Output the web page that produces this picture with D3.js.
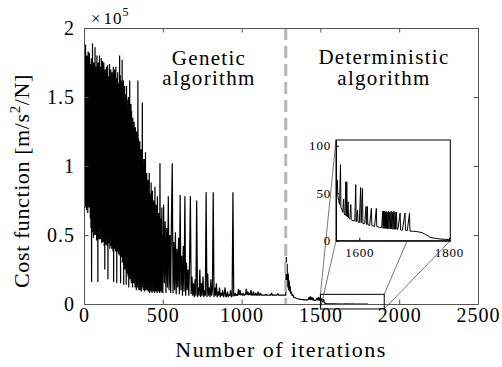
<!DOCTYPE html>
<html>
  <head>
    <title>Cost function</title>
    <style>
      body { margin: 0; background: #fff; }
      svg { display: block; background-color: #fff; }
      text { font-family: "Liberation Serif", serif; fill: #000; }
    </style>
  </head>
  <body>
    <svg id="canvas" width="502" height="367"></svg>
    <script src="https://d3js.org/d3.v7.min.js"></script>
    <script>
      // Genetic algorithm cost (x1e5), iterations 0..498, one value every 2 iterations.
      var earlyStart = 0, earlyStep = 2;
      var genEarly = [
        1.20, 1.85, 0.80, 1.72, 0.70, 1.88, 0.95, 1.60, 0.68, 1.80,
        0.90, 1.70, 0.66, 1.83, 0.75, 1.55, 0.70, 1.82, 0.85, 1.74,
        0.62, 1.60, 0.55, 1.78, 0.16, 1.65, 0.52, 1.89, 0.58, 1.70,
        0.48, 1.75, 0.60, 1.68, 0.50, 1.86, 0.55, 1.72, 0.50, 1.64,
        0.46, 1.80, 0.58, 1.66, 0.16, 1.75, 0.50, 1.62, 0.47, 1.80,
        0.55, 1.72, 0.47, 1.68, 0.60, 1.78, 0.44, 1.58, 0.52, 1.76,
        0.45, 1.68, 0.48, 1.75, 0.42, 1.62, 0.25, 1.70, 0.45, 1.66,
        0.43, 1.72, 0.50, 1.60, 0.42, 1.73, 0.18, 1.65, 0.44, 1.58,
        0.46, 1.74, 0.40, 1.64, 0.48, 1.70, 0.42, 1.55, 0.40, 1.68,
        0.42, 1.60, 0.38, 1.72, 0.16, 1.66, 0.44, 1.70, 0.40, 1.58,
        0.38, 1.72, 0.40, 1.55, 0.15, 1.64, 0.38, 1.68, 0.42, 1.52,
        0.36, 1.60, 0.38, 1.80, 0.35, 1.66, 0.15, 1.62, 0.36, 1.58,
        0.34, 1.77, 0.30, 1.55, 0.35, 1.62, 0.14, 1.50, 0.30, 1.58,
        0.25, 1.52, 0.30, 1.45, 0.14, 1.58, 0.22, 1.48, 0.28, 1.40,
        0.20, 1.50, 0.12, 1.42, 0.25, 1.62, 0.18, 1.38, 0.22, 1.45,
        0.15, 1.40, 0.20, 1.30, 0.12, 1.35, 0.22, 1.25, 0.15, 1.32,
        0.18, 1.20, 0.12, 1.28, 0.20, 1.15, 0.10, 1.25, 0.16, 1.10,
        0.12, 1.62, 0.18, 1.20, 0.10, 1.05, 0.15, 1.18, 0.10, 1.00,
        0.14, 1.12, 0.09, 0.98, 0.16, 1.46, 0.12, 1.05, 0.10, 0.92,
        0.15, 1.05, 0.09, 0.88, 0.14, 1.10, 0.10, 0.85, 0.12, 0.95,
        0.10, 0.85, 0.16, 0.90, 0.09, 0.78, 0.12, 0.95, 0.08, 0.80,
        0.14, 0.72, 0.09, 0.88, 0.11, 0.70, 0.08, 0.82, 0.13, 0.68,
        0.09, 0.75, 0.12, 0.65, 0.08, 0.85, 0.10, 0.62, 0.09, 0.72,
        0.12, 0.58, 0.08, 0.78, 0.10, 0.60, 0.09, 0.66, 0.11, 0.55,
        0.08, 1.02, 0.10, 0.62, 0.09, 0.52, 0.12, 0.70, 0.08, 0.50
      ];

      // Genetic algorithm cost (x1e5), iterations 500..1280, one value every 5 iterations.
      var lateStart = 500, lateStep = 5;
      var genLate = [
        0.08, 0.72, 0.15, 0.60, 0.08, 0.55, 0.12, 0.78, 0.10, 0.50,
        0.08, 0.62, 1.02, 0.08, 0.45, 0.10, 0.52, 0.07, 0.40, 0.12,
        0.48, 0.07, 0.79, 0.10, 0.35, 0.06, 0.42, 0.09, 0.78, 0.06,
        0.30, 0.10, 0.25, 0.06, 0.32, 0.78, 0.07, 0.20, 0.06, 0.15,
        0.05, 0.18, 0.06, 0.75, 0.05, 0.12, 0.06, 0.25, 0.05, 0.15,
        0.06, 0.20, 0.05, 0.10, 0.06, 0.81, 0.05, 0.22, 0.06, 0.12,
        0.05, 0.18, 0.06, 0.10, 0.81, 0.05, 0.12, 0.06, 0.15, 0.05,
        0.09, 0.06, 0.12, 0.05, 0.08, 0.06, 0.10, 0.05, 0.07, 0.12,
        0.05, 0.06, 0.09, 0.05, 0.07, 0.06, 0.10, 0.05, 0.06, 0.81,
        0.06, 0.06, 0.08, 0.06, 0.07, 0.06, 0.11, 0.065, 0.10, 0.065,
        0.07, 0.065, 0.08, 0.065, 0.065, 0.07, 0.11, 0.065, 0.09, 0.065,
        0.08, 0.065, 0.10, 0.065, 0.065, 0.09, 0.065, 0.065, 0.08, 0.065,
        0.065, 0.09, 0.065, 0.065, 0.08, 0.065, 0.065, 0.065, 0.065, 0.065,
        0.065, 0.07, 0.065, 0.065, 0.065, 0.065, 0.065, 0.065, 0.08, 0.065,
        0.065, 0.065, 0.065, 0.065, 0.065, 0.065, 0.075, 0.065, 0.065, 0.065,
        0.065, 0.065, 0.065, 0.065, 0.065, 0.065, 0.065
      ];

      // Deterministic algorithm start, [iteration, cost x1e5]
      var detCost = [
        [1284, 0.34], [1287, 0.14], [1290, 0.29], [1293, 0.12],
        [1296, 0.22], [1299, 0.10], [1302, 0.17], [1305, 0.09], [1308, 0.13],
        [1311, 0.075], [1315, 0.09], [1320, 0.06], [1325, 0.07], [1330, 0.05],
        [1340, 0.045], [1350, 0.04], [1360, 0.037], [1375, 0.034], [1390, 0.032],
        [1405, 0.03], [1420, 0.03], [1430, 0.05], [1433, 0.03], [1437, 0.055],
        [1440, 0.03], [1445, 0.05], [1448, 0.028], [1455, 0.045], [1458, 0.028],
        [1470, 0.027], [1480, 0.045], [1483, 0.026], [1490, 0.05], [1493, 0.025],
        [1500, 0.045], [1503, 0.02], [1510, 0.04], [1513, 0.015], [1520, 0.035],
        [1525, 0.008], [1535, 0.003], [1545, 0.001]
      ];

      // Deterministic tail shown in the inset, [iteration, cost]
      var tailCost = [
        [1548, 66], [1549, 52], [1551, 64], [1552, 48], [1554, 42], [1556, 38],
        [1558, 80], [1559, 35], [1561, 33], [1563, 30], [1565, 44], [1566, 29],
        [1568, 27], [1570, 62], [1571, 26], [1572, 62], [1573, 25], [1575, 41],
        [1576, 24], [1579, 23], [1581, 38], [1582, 22], [1586, 21], [1590, 21],
        [1592, 59], [1593, 20], [1596, 32], [1597, 20], [1600, 19], [1603, 56],
        [1604, 19], [1607, 55], [1608, 18], [1612, 18], [1615, 36], [1616, 17],
        [1618, 36], [1619, 17], [1623, 16], [1627, 34], [1628, 16], [1634, 15],
        [1638, 34], [1639, 15], [1645, 14], [1650, 14],
        [1652, 31], [1653, 13], [1654, 31], [1655, 13], [1656, 31], [1657, 13],
        [1658, 30], [1659, 13], [1660, 31], [1661, 13], [1662, 30], [1663, 12.5],
        [1665, 31], [1666, 12.5], [1668, 30], [1669, 12.5], [1671, 31], [1672, 12.5],
        [1674, 30], [1675, 12], [1677, 31], [1678, 12], [1680, 30], [1681, 12],
        [1683, 30], [1684, 12], [1686, 12], [1691, 29], [1692, 11.5], [1696, 11],
        [1702, 29], [1703, 11], [1707, 10.5], [1712, 29], [1713, 10], [1720, 10],
        [1730, 9.5], [1740, 8.5], [1748, 6.5], [1755, 4.5], [1760, 3.2], [1770, 2.5],
        [1780, 1.8], [1790, 1.5], [1800, 1.2], [1803, 1.2]
      ];

      var xTicks = [0, 500, 1000, 1500, 2000, 2500];
      var yTicks = [0, 0.5, 1, 1.5, 2];
      var insetXTicks = [1600, 1800];
      var insetYTicks = [0, 50, 100];
      var switchIter = 1280;       // GA -> deterministic
      var zoomBox = { x0: 1500, x1: 1905, y0: -0.036, y1: 0.07 }; // x1e5

      var svg = d3.select("#canvas");
      var axisColor = "#555";

      // scales
      var x = d3.scaleLinear().domain([0, 2500]).range([84, 478]);
      var y = d3.scaleLinear().domain([0, 2]).range([304, 28]);
      var xi = d3.scaleLinear().domain([1548, 1803]).range([336, 450.3]);
      var yi = d3.scaleLinear().domain([0, 106]).range([240.7, 140]);

      // build the full series
      var series = genEarly.map((v, i) => [earlyStart + i * earlyStep, v])
        .concat(genLate.map((v, i) => [lateStart + i * lateStep, v]))
        .concat(detCost)
        .concat(tailCost.map(d => [d[0], d[1] / 1e5]));

      var defs = svg.append("defs");
      defs.append("clipPath").attr("id", "clipMain")
        .append("rect")
        .attr("x", x(0)).attr("y", y(2))
        .attr("width", x(2500) - x(0)).attr("height", y(0) - y(2));
      defs.append("clipPath").attr("id", "clipInset")
        .append("rect")
        .attr("x", xi(1548)).attr("y", yi(106))
        .attr("width", xi(1803) - xi(1548)).attr("height", yi(0) - yi(106));

      // main line
      var line = d3.line().x(d => x(d[0])).y(d => y(d[1]));
      svg.append("path")
        .datum(series)
        .attr("clip-path", "url(#clipMain)")
        .attr("d", line)
        .attr("fill", "none")
        .attr("stroke", "#000")
        .attr("stroke-width", 1.2)
        .attr("stroke-linejoin", "miter")
        .attr("stroke-miterlimit", 2);

      // dashed separator
      svg.append("line")
        .attr("x1", x(switchIter)).attr("x2", x(switchIter))
        .attr("y1", y(2)).attr("y2", y(0))
        .attr("stroke", "#b4b4b4")
        .attr("stroke-width", 3)
        .attr("stroke-dasharray", "12,6");

      // axes (MATLAB box, ticks inside)
      function styleAxis(g) {
        g.attr("color", axisColor);
        g.selectAll("text").attr("fill", "#000")
          .style("font-family", "Liberation Serif").style("font-size", "20px")
          .style("letter-spacing", "1px");
      }
      svg.append("g").attr("transform", "translate(0," + y(0) + ")")
        .call(d3.axisBottom(x).tickValues(xTicks).tickSizeInner(-4.5).tickSizeOuter(0).tickPadding(4).tickFormat(d3.format("d")))
        .call(styleAxis);
      svg.append("g").attr("transform", "translate(0," + y(2) + ")")
        .call(d3.axisTop(x).tickValues(xTicks).tickSizeInner(-4.5).tickSizeOuter(0).tickFormat(""))
        .call(styleAxis);
      svg.append("g").attr("transform", "translate(" + x(0) + ",0)")
        .call(d3.axisLeft(y).tickValues(yTicks).tickSizeInner(-4.5).tickSizeOuter(0).tickPadding(9).tickFormat(d3.format("")))
        .call(styleAxis);
      svg.append("g").attr("transform", "translate(" + x(2500) + ",0)")
        .call(d3.axisRight(y).tickValues(yTicks).tickSizeInner(-4.5).tickSizeOuter(0).tickFormat(""))
        .call(styleAxis);

      // zoom rectangle and connectors
      var bx0 = x(zoomBox.x0), bx1 = x(zoomBox.x1), by0 = y(zoomBox.y1), by1 = y(zoomBox.y0);
      var connectors = [
        [bx0, by0, xi(1548), yi(106)],
        [bx0, by1, xi(1548), yi(0)],
        [bx1, by0, xi(1803), yi(106)],
        [bx1, by1, xi(1803), yi(0)]
      ];
      svg.selectAll(".conn").data(connectors).enter().append("line")
        .attr("x1", d => d[0]).attr("y1", d => d[1])
        .attr("x2", d => d[2]).attr("y2", d => d[3])
        .attr("stroke", "#555").attr("stroke-width", 0.8);
      svg.append("rect")
        .attr("x", bx0).attr("y", by0)
        .attr("width", bx1 - bx0).attr("height", by1 - by0)
        .attr("fill", "none").attr("stroke", "#000").attr("stroke-width", 1);

      // inset
      svg.append("rect")
        .attr("x", xi(1548)).attr("y", yi(106))
        .attr("width", xi(1803) - xi(1548)).attr("height", yi(0) - yi(106))
        .attr("fill", "#fff");
      var lineInset = d3.line().x(d => xi(d[0])).y(d => yi(d[1]));
      svg.append("path")
        .datum(tailCost)
        .attr("clip-path", "url(#clipInset)")
        .attr("d", lineInset)
        .attr("fill", "none")
        .attr("stroke", "#000")
        .attr("stroke-width", 1);

      function styleInset(g) {
        g.attr("color", "#000");
        g.selectAll("text").attr("fill", "#000")
          .style("font-family", "Liberation Serif").style("font-size", "13px")
          .style("letter-spacing", "0.8px");
      }
      svg.append("g").attr("transform", "translate(0," + yi(0) + ")")
        .call(d3.axisBottom(xi).tickValues(insetXTicks).tickSizeInner(-3).tickSizeOuter(0).tickPadding(7).tickFormat(d3.format("d")))
        .call(styleInset);
      svg.append("g").attr("transform", "translate(" + xi(1548) + ",0)")
        .call(d3.axisLeft(yi).tickValues(insetYTicks).tickSizeInner(-3).tickSizeOuter(0).tickPadding(5))
        .call(styleInset);
      svg.append("rect")
        .attr("x", xi(1548)).attr("y", yi(106))
        .attr("width", xi(1803) - xi(1548)).attr("height", yi(0) - yi(106))
        .attr("fill", "none").attr("stroke", "#000").attr("stroke-width", 1);

      // annotations
      var notes = svg.append("g").attr("font-size", "21px").attr("text-anchor", "middle")
        .attr("letter-spacing", "1.3px");
      notes.append("text").attr("x", 209).attr("y", 65).text("Genetic");
      notes.append("text").attr("x", 209).attr("y", 84.5).text("algorithm");
      notes.append("text").attr("x", 384).attr("y", 64).text("Deterministic");
      notes.append("text").attr("x", 384).attr("y", 84.5).text("algorithm");

      // exponent
      var ex = svg.append("text").attr("x", 91).attr("y", 24).attr("font-size", "17px");
      ex.append("tspan").text("\u00d7");
      ex.append("tspan").attr("dx", 3).attr("letter-spacing", "1px").text("10");
      ex.append("tspan").attr("dy", -8).attr("font-size", "12px").text("5");

      // axis labels
      svg.append("text")
        .attr("x", 281).attr("y", 356.5)
        .attr("text-anchor", "middle").attr("font-size", "22px")
        .attr("letter-spacing", "1.4px")
        .text("Number of iterations");
      var yl = svg.append("text")
        .attr("transform", "translate(28.5,181) rotate(-90)")
        .attr("text-anchor", "middle").attr("font-size", "22px")
        .attr("letter-spacing", "0.6px");
      yl.append("tspan").text("Cost function [m/s");
      yl.append("tspan").attr("dy", -9).attr("font-size", "15px").text("2");
      yl.append("tspan").attr("dy", 9).text("/N]");
    </script>
  </body>
</html>
